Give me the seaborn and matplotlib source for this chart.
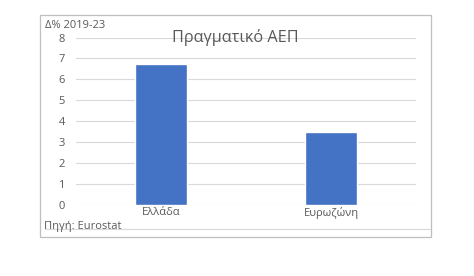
import matplotlib
matplotlib.use("Agg")
import matplotlib.pyplot as plt
import seaborn as sns
import pandas as pd
from matplotlib.patches import Rectangle
from matplotlib.lines import Line2D

categories = ["Ελλάδα", "Ευρωζώνη"]
values = [6.73, 3.48]
yticks = [0, 1, 2, 3, 4, 5, 6, 7, 8]

sns.set_theme(style="white")
plt.rcParams['font.family'] = ['Open Sans', 'DejaVu Sans']

W, H = 474, 276
fig = plt.figure(figsize=(W / 100, H / 100), dpi=100)
fig.patch.set_facecolor("white")

# outer chart frame
fig.add_artist(Rectangle((40 / W, 1 - 237 / H), (431 - 40) / W, (237 - 15) / H,
                         transform=fig.transFigure, fill=False,
                         edgecolor="#BFBFBF", linewidth=0.9))
fig.add_artist(Line2D([45 / W, 430 / W], [1 - 229 / H, 1 - 229 / H],
                      transform=fig.transFigure, color="#D9D9D9", linewidth=0.8))

ax = fig.add_axes([76 / W, 1 - 205 / H, (416 - 76) / W, (205 - 37.5) / H])
df = pd.DataFrame({"cat": categories, "val": values})
sns.barplot(data=df, x="cat", y="val", ax=ax, color="#4472C4", width=0.31,
            saturation=1, zorder=3)
ax.set_ylim(0, 8)
ax.set_yticks(yticks)
ax.set_yticklabels([str(t) for t in yticks])
ax.set_xlabel("")
ax.set_ylabel("")
for s in ax.spines.values():
    s.set_visible(False)
ax.yaxis.grid(True, color="#D9D9D9", linewidth=0.8, zorder=0)
ax.set_axisbelow(True)
ax.tick_params(axis="both", length=0, labelsize=8, labelcolor="#595959")
ax.tick_params(axis="y", pad=8)
ax.tick_params(axis="x", pad=1.5)
ax.set_facecolor("none")

fig.text(235 / W, 1 - 38 / H, "Πραγματικό ΑΕΠ", ha="center", va="center",
         fontsize=11.7, color="#595959")
fig.text(45 / W, 1 - 25 / H, "Δ% 2019-23", ha="left", va="center",
         fontsize=8, color="#595959")
fig.text(44 / W, 1 - 226 / H, "Πηγή: Eurostat", ha="left", va="center",
         fontsize=8, color="#595959")

fig.savefig("out.png", dpi=100)
